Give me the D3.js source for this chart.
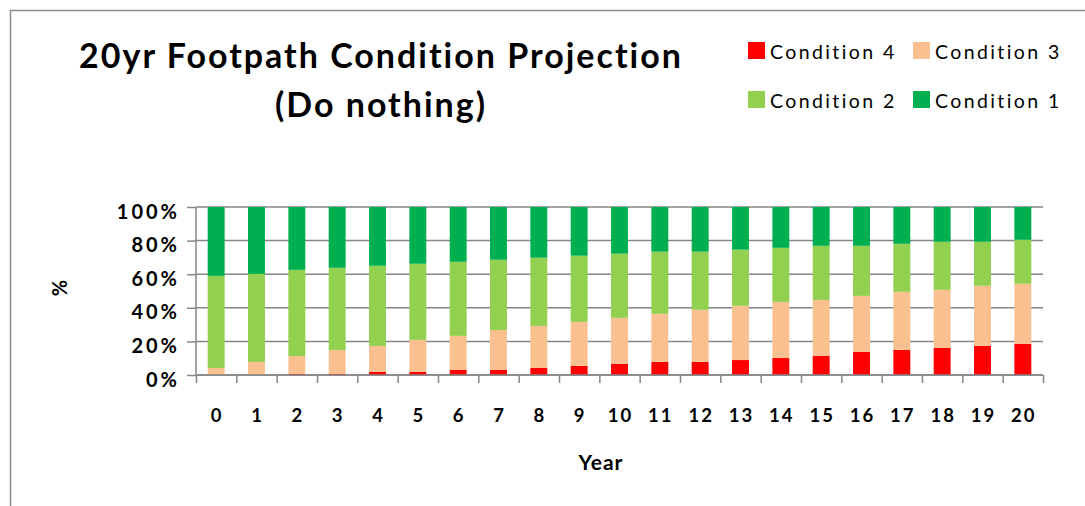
<!DOCTYPE html>
<html>
<head>
<meta charset="utf-8">
<script src="https://cdn.jsdelivr.net/npm/d3@7"></script>
<style>
  body { margin: 0; background: #fff; }
  svg text { font-family: Lato, "Open Sans", sans-serif; fill: #000; font-variant-ligatures: none; }
</style>
</head>
<body>
<div id="chart"></div>
<script>
// 20yr footpath condition projection - stacked 100% bars
var years = d3.range(0, 21);
var cond4 = [0, 0, 0.6, 0.6, 1.8, 1.8, 3.0, 3.0, 4.2, 5.4, 6.6, 7.8, 7.8, 8.9, 10.1, 11.3, 13.7, 14.9, 16.1, 17.3, 18.5];
var cond3 = [4.2, 7.8, 10.7, 14.3, 15.5, 19.1, 20.3, 23.8, 25.0, 26.2, 27.4, 28.6, 31.0, 32.3, 33.4, 33.4, 33.4, 34.6, 34.6, 35.8, 35.8];
var cond2 = [54.8, 52.4, 51.3, 48.9, 47.7, 45.3, 44.1, 41.8, 40.6, 39.4, 38.2, 37.0, 34.6, 33.4, 32.2, 32.2, 29.8, 28.6, 28.6, 26.2, 26.2];
var cond1 = [41.0, 39.8, 37.4, 36.2, 35.0, 33.8, 32.6, 31.4, 30.2, 29.0, 27.8, 26.6, 26.6, 25.4, 24.3, 23.1, 23.1, 21.9, 20.7, 20.7, 19.5];
var seriesNames = ["Condition 4", "Condition 3", "Condition 2", "Condition 1"];
var yTicks = [0, 20, 40, 60, 80, 100];

const width = 1085, height = 506;
const plotLeft = 196, plotRight = 1043, plotTop = 207, plotBottom = 375;

var colors = {"Condition 4": "#ff0000", "Condition 3": "#fac090", "Condition 2": "#92d050", "Condition 1": "#00b050"};

var rows = years.map(function(yr, i) {
  return {year: yr, "Condition 4": cond4[i], "Condition 3": cond3[i], "Condition 2": cond2[i], "Condition 1": cond1[i]};
});

var svg = d3.select("#chart").append("svg")
  .attr("width", width)
  .attr("height", height);

// outer border (chart frame runs off the right/bottom)
svg.append("path")
  .attr("d", "M10.5," + height + "V10.5H" + width)
  .style("fill", "none")
  .style("stroke", "#8c8c8c")
  .style("stroke-width", 1.5);

var x = d3.scaleBand().domain(years).range([plotLeft, plotRight]).paddingInner(0.58).paddingOuter(0.29);
var xEdge = d3.scaleLinear().domain([0, years.length]).range([plotLeft, plotRight]);
var y = d3.scaleLinear().domain([0, 100]).range([plotBottom, plotTop]);

// gridlines
svg.append("g")
  .selectAll("line")
  .data(yTicks)
  .enter()
  .append("line")
    .attr("x1", plotLeft)
    .attr("x2", plotRight)
    .attr("y1", function(d) { return y(d); })
    .attr("y2", function(d) { return y(d); })
    .style("stroke", "#868686")
    .style("stroke-width", 1.5);

var stack = d3.stack().keys(seriesNames);
var layers = stack(rows);

svg.append("g")
  .selectAll("g")
  .data(layers)
  .enter()
  .append("g")
    .style("fill", function(d) { return colors[d.key]; })
  .selectAll("rect")
  .data(function(d) { return d; })
  .enter()
  .append("rect")
    .attr("x", function(d) { return x(d.data.year); })
    .attr("width", x.bandwidth())
    .attr("y", function(d) { return y(d[1]); })
    .attr("height", function(d) { return y(d[0]) - y(d[1]); });

// y axis
var yAxis = d3.axisLeft(y).tickValues(yTicks).tickSize(9).tickPadding(7)
  .tickFormat(function(d) { return d + "%"; });
var gy = svg.append("g")
  .attr("transform", "translate(" + plotLeft + ",0)")
  .call(yAxis);
gy.select(".domain").remove();
gy.selectAll(".tick line").style("stroke", "#868686").style("stroke-width", 1.5);
gy.append("line").attr("x1", 0).attr("x2", 0).attr("y1", plotTop).attr("y2", plotBottom)
  .style("stroke", "#868686").style("stroke-width", 1.5);
gy.selectAll(".tick text")
  .attr("dy", "11px")
  .style("font-size", "20px")
  .style("font-weight", "bold")
  .style("letter-spacing", "3px")
  .style("fill", "#000");

// x axis: ticks at category edges
var xTickAxis = d3.axisBottom(xEdge).tickValues(d3.range(0, years.length + 1)).tickSize(8).tickFormat("");
var gx = svg.append("g")
  .attr("transform", "translate(0," + plotBottom + ")")
  .call(xTickAxis);
gx.select(".domain").remove();
gx.selectAll(".tick line").style("stroke", "#868686").style("stroke-width", 1.5);
gx.append("line").attr("x1", plotLeft).attr("x2", plotRight)
  .style("stroke", "#868686").style("stroke-width", 1.5);

var xLabelAxis = d3.axisBottom(x).tickSize(0);
var gxl = svg.append("g")
  .attr("transform", "translate(0," + plotBottom + ")")
  .call(xLabelAxis);
gxl.select(".domain").remove();
gxl.selectAll(".tick text")
  .attr("y", 47)
  .attr("dy", 0)
  .attr("dx", 1)
  .style("font-size", "18.5px")
  .style("font-weight", "bold")
  .style("letter-spacing", "2px")
  .style("fill", "#000");

// axis titles
svg.append("text")
  .attr("transform", "translate(" + 67 + "," + 288 + ") rotate(270)")
  .attr("text-anchor", "middle")
  .style("font-size", "20px")
  .style("font-weight", "bold")
  .text("%");

svg.append("text")
  .attr("x", 601)
  .attr("y", 470)
  .attr("text-anchor", "middle")
  .style("font-size", "21px")
  .style("font-weight", "bold")
  .style("letter-spacing", "1px")
  .text("Year");

// title
svg.append("text")
  .attr("x", 381)
  .attr("y", 68)
  .attr("text-anchor", "middle")
  .style("font-size", "34px")
  .style("font-weight", "bold")
  .style("letter-spacing", "2px")
  .text("20yr Footpath Condition Projection");
svg.append("text")
  .attr("x", 381)
  .attr("y", 117)
  .attr("text-anchor", "middle")
  .style("font-size", "34px")
  .style("font-weight", "bold")
  .style("letter-spacing", "2px")
  .text("(Do nothing)");

// legend
var legendPos = [[748, 42], [913, 42], [748, 91], [913, 91]];
var legend = svg.append("g")
  .selectAll("g")
  .data(seriesNames)
  .enter()
  .append("g")
    .attr("transform", function(d, i) { return "translate(" + legendPos[i][0] + "," + legendPos[i][1] + ")"; });
legend.append("rect")
  .attr("width", 17)
  .attr("height", 17)
  .style("fill", function(d) { return colors[d]; });
legend.append("text")
  .attr("x", 22)
  .attr("y", 17)
  .style("font-size", "19.5px")
  .style("letter-spacing", "2.4px")
  .text(function(d) { return d; });
</script>
</body>
</html>
